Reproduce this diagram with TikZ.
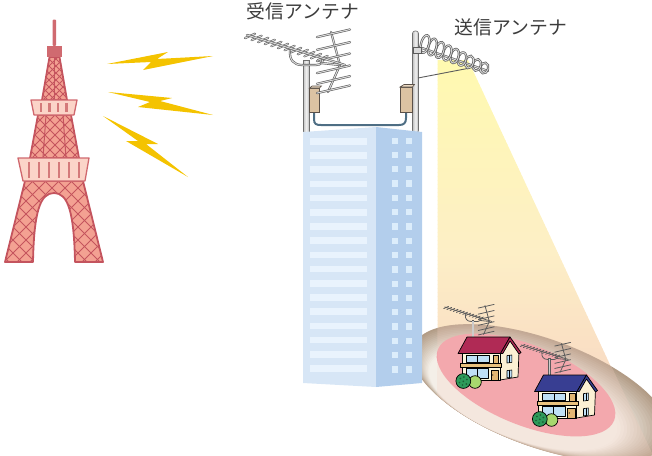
\documentclass[tikz,border=0pt]{standalone}
\usepackage{fontspec}
\newfontfamily\jpfont{Noto Sans CJK JP}
\definecolor{towerfill}{HTML}{F3A192}
\definecolor{towerline}{HTML}{C4545E}
\definecolor{towerdark}{HTML}{D06A70}
\definecolor{platfill}{HTML}{FBD4C8}
\definecolor{platline}{HTML}{D0686E}
\definecolor{platbar}{HTML}{D47A7A}
\definecolor{boltc}{HTML}{F4C300}
\definecolor{poleedge}{HTML}{6E6E6E}
\definecolor{boxfill}{HTML}{DCC3A3}
\definecolor{boxtop}{HTML}{EBD9C2}
\definecolor{boxedge}{HTML}{5A5048}
\definecolor{cablec}{HTML}{4E6E84}
\definecolor{pipeedge}{HTML}{5C5C5C}
\definecolor{pipecore}{HTML}{DADADA}
\definecolor{bfront}{HTML}{D7E6F6}
\definecolor{bstripe}{HTML}{E9F3FD}
\definecolor{bside}{HTML}{B3CEEC}
\definecolor{bwin}{HTML}{DCEDFB}
\definecolor{beamtop}{HTML}{FFF9B0}
\definecolor{beammid}{HTML}{FDEFC6}
\definecolor{beambot}{HTML}{F6D0C2}
\definecolor{groundout}{HTML}{B29C86}
\definecolor{groundin}{HTML}{F4EFE8}
\definecolor{pinkc}{HTML}{F29BA6}
\definecolor{wallc}{HTML}{FDF7DE}
\definecolor{sidewall}{HTML}{FBF0D4}
\definecolor{glass}{HTML}{BFE0F6}
\definecolor{doorc}{HTML}{E2B673}
\definecolor{railc}{HTML}{E9C27E}
\definecolor{roofred}{HTML}{B02A55}
\definecolor{roofblue}{HTML}{383E92}
\definecolor{bushdark}{HTML}{2E9A5A}
\definecolor{bushlight}{HTML}{A8D86E}
\definecolor{bushdot}{HTML}{1D5E36}
\definecolor{labelc}{HTML}{3C3C3C}

% outlines of the tower sections
\newcommand\legspath{(25,181) -- (5,262) -- (33,262) .. controls (34,212) and (40,193) .. (54,193) .. controls (68,193) and (74,212) .. (75,262) -- (103,262) -- (83,181) -- cycle}
\newcommand\midpath{(30,158) -- (38,115) -- (71,115) -- (79,158) -- cycle}
\newcommand\uppath{(42,100) -- (49.5,57) -- (59.5,57) -- (67,100) -- cycle}

% one horizontal band of the light cone: #1 = top y, #2 = colour
\newcommand\beamband[2]{%
  \pgfmathsetmacro\bya{#1}%
  \pgfmathsetmacro\byb{#1+4.6}%
  \pgfmathsetmacro\bxa{468+0.466*(\bya-60)}%
  \pgfmathsetmacro\bxb{468+0.466*(\byb-60)}%
  \fill[#2] (437.5,\bya) -- (\bxa,\bya) -- (\bxb,\byb) -- (437.5,\byb) -- cycle;}

\tikzset{
  pipe/.style={draw=pipeedge, double=pipecore, double distance=1pt, line width=0.6pt, line cap=round},
  hl/.style={draw=black, line width=0.7pt, line join=round},
  % Yagi antenna, origin at the top of its mast
  pics/yagi/.style={code={
    \draw[pipe] (25,-30) -- (34,3) -- (22,30);
    \foreach \ey in {-28.7,-16,-4.7,7.3,18,27.3}
      {\draw[pipe] (11,\ey+3.8) -- (44,\ey-3.8);}
    \draw[pipe] (-16,-12) .. controls (-17,-2) and (-12,3) .. (-4,3) -- (10,3)
      .. controls (15,3) and (17,0) .. (17,-4);
    \draw[pipe] (15,1) -- (34,3);
    \foreach \t in {0,...,11} {
      \pgfmathsetmacro\bx{-56+\t*6.6}
      \pgfmathsetmacro\by{-27+(\bx+59)*30/98}
      \draw[pipe] (\bx-5,\by+2.2) -- (\bx+5,\by-2.2);
    }
    \draw[pipe] (-59,-27) -- (39,3);
  }},
  % two-storey house, origin at the top left of the front wall
  pics/house/.style={code={
    \pic[scale=0.48, pipe/.style={draw=pipeedge, line width=0.8pt, line cap=round}] at (11,-32) {yagi};
    \draw[draw=pipeedge, line width=2.4pt] (11,-3) -- (11,-32);
    \draw[draw=pipecore!85!gray, line width=1.1pt] (11,-3) -- (11,-31.5);
    \filldraw[hl, fill=sidewall] (38,0) -- (48,-14) -- (57,-1) -- (56,25) -- (38,28) -- cycle;
    \filldraw[hl, fill=glass, line width=0.6pt] (45,3.6) -- (49.8,3) -- (49.8,10.4) -- (45,11) -- cycle;
    \draw[black, line width=0.4pt] (47.4,3.3) -- (47.4,10.7);
    \filldraw[hl, fill=glass, line width=0.6pt] (45,18.6) -- (49.8,18) -- (49.8,25.2) -- (45,25.8) -- cycle;
    \draw[black, line width=0.4pt] (47.4,18.3) -- (47.4,25.5);
    \filldraw[hl, fill=wallc] (0,0) rectangle (38,28);
    \filldraw[hl, fill=glass] (4,3.4) rectangle (27,10.8);
    \draw[black, line width=0.5pt] (15.5,3.4) -- (15.5,10.8);
    \filldraw[hl, fill=doorc] (31,3.2) rectangle (36.5,12);
    \filldraw[hl, fill=railc] (-1.5,11.5) rectangle (39.5,15);
    \filldraw[hl, fill=glass] (4,16.5) rectangle (26.5,26.6);
    \draw[black, line width=0.5pt] (15.2,16.5) -- (15.2,26.6);
    \filldraw[hl, fill=doorc] (29,18) rectangle (36.5,28);
    \fill[black] (30.8,23) circle (0.6);
    \filldraw[hl, fill=#1] (-4,1.5) -- (5,-15) -- (48,-15) -- (38.5,1.5) -- cycle;
    \filldraw[hl, fill=#1] (38.5,1.5) -- (48,-15) -- (59,0.5) -- (57,2) -- (48,-11) -- (40.8,1.5) -- cycle;
    \filldraw[hl, fill=bushlight] (13,30) circle (6.3);
    \filldraw[hl, fill=bushdark] (1.3,29) circle (7.4);
    \foreach \dx/\dy in {-3/-2.5,0.5/-4,3.5/-1.5,-3.8/1.5,0/0.3,3/3,-0.8/4}
      {\fill[bushdot] (1.3+\dx,29+\dy) circle (0.95);}
  }}
}

\begin{document}
\begin{tikzpicture}[x=1pt,y=-1pt,
  towerstroke/.style={draw=towerline, line width=1.8pt, line join=round},
  lattice/.style={draw=towerline, line width=1pt},
  platform/.style={draw=platline, fill=platfill, line width=1.3pt, line join=round},
  lbl/.style={font=\jpfont\fontsize{18.8pt}{20pt}\selectfont, text=labelc, inner sep=0pt},
  boltshape/.style={fill=boltc},
]
\useasboundingbox (0,0) rectangle (652,455);

% ---------- light cone of the transmitting antenna (graded bands)
\foreach \k in {0,...,47} {
  \pgfmathsetmacro\p{(4*\k)/190*100}
  \beamband{60+4*\k}{beammid!\p!beamtop}
}
\foreach \k in {48,...,77} {
  \pgfmathsetmacro\p{min(100,(60+4*\k-250)/190*100)}
  \beamband{60+4*\k}{beambot!\p!beammid}
}

% ---------- service area on the ground
\foreach \i in {0,...,30} {
  \pgfmathsetmacro\s{1-\i*0.017}
  \pgfmathsetmacro\p{min(100,\i*6.5)}
  \pgfmathsetmacro\cx{541-\i*1.1}
  \pgfmathsetmacro\cy{393+\i*0.45}
  \fill[groundin!\p!groundout, rotate around={-20:(\cx,\cy)}]
    (\cx,\cy) ellipse [x radius={136*\s}, y radius={54*\s}];
}
\fill[pinkc, rotate around={-22:(526,385)}] (526,385) ellipse [x radius=95, y radius=40];
\begin{scope}
  \clip[rotate around={-20:(541,393)}] (541,393) ellipse [x radius=136, y radius=54];
  \fill[beambot, fill opacity=0.25] (438,60) -- (468,60) -- (660,470) -- (437,470) -- cycle;
\end{scope}

% ---------- houses
\pic at (462,352) {house=roofred};
\pic at (538.5,390) {house=roofblue};

% ---------- rooftop masts, boxes and cable
\draw[cablec, line width=2pt, line cap=round] (314,111) -- (314,119)
  .. controls (314,124) and (316,125) .. (321,125) -- (399,125)
  .. controls (404,125) and (406,123) .. (406,118) -- (406,111);
\draw[draw=poleedge, line width=0.6pt, left color=gray!50, right color=gray!60, middle color=gray!10]
  (303,60) rectangle (309.5,133);
\draw[draw=poleedge, line width=0.6pt, left color=gray!50, right color=gray!60, middle color=gray!10, rounded corners=2.5pt]
  (412.5,31) rectangle (418.5,133);
\filldraw[draw=boxedge, fill=boxfill, line width=0.6pt] (309.5,88) rectangle (319.5,112);
\filldraw[draw=boxedge, fill=boxtop, line width=0.6pt] (309.5,88) -- (312,86) -- (321.5,86) -- (319.5,88) -- cycle;
\filldraw[draw=boxedge, fill=boxfill, line width=0.6pt] (400,87) rectangle (412.5,112);
\filldraw[draw=boxedge, fill=boxtop, line width=0.6pt] (400,87) -- (404,84.5) -- (414.5,84.5) -- (412.5,87) -- cycle;

% receiving Yagi
\pic at (306,62) {yagi};

% transmitting helical antenna
\draw[pipeedge, line width=0.9pt] (418,78) -- (470,68);
\draw[pipe] (419,47) -- (488,71);
\foreach \i in {8,7,...,0} {
  \pgfmathsetmacro\cx{425+\i*7.4}
  \pgfmathsetmacro\cy{44+\i*3}
  \pgfmathsetmacro\ry{9-\i*0.45}
  \draw[pipeedge, line width=2.3pt, rotate around={-15:(\cx,\cy)}]
    (\cx,\cy) ellipse [x radius=4, y radius=\ry];
  \draw[pipecore, line width=0.9pt, rotate around={-15:(\cx,\cy)}]
    (\cx,\cy) ellipse [x radius=4, y radius=\ry];
}
\filldraw[draw=pipeedge, fill=pipecore, line width=0.6pt] (413,47) rectangle (421,53);

% ---------- high-rise building
\fill[bfront] (303,132) -- (376,127) -- (376,387) -- (303,383) -- cycle;
\fill[bside] (376,127) -- (422,132) -- (422,383) -- (376,387) -- cycle;
\foreach \i in {0,...,16} {
  \pgfmathsetmacro\yy{138+\i*14.2}
  \fill[bstripe] (310,\yy) rectangle (367,\yy+6.5);
  \pgfmathsetmacro\wy{137.5+\i*14.3}
  \fill[bwin] (392,\wy) rectangle (398,\wy+6.3);
  \fill[bwin] (406,\wy) rectangle (412,\wy+6.3);
}

% ---------- broadcasting tower
\fill[towerfill] \legspath;
\begin{scope}
  \clip \legspath;
  \foreach \a in {-130,-117,...,260}
    {\draw[lattice] (\a,175) -- ++(100,100) (\a,175) -- ++(-100,100);}
\end{scope}
\draw[towerstroke] \legspath;
\fill[towerfill] \midpath;
\begin{scope}
  \clip \midpath;
  \foreach \a in {-60,-50,...,170}
    {\draw[lattice] (\a,110) -- ++(60,60) (\a,110) -- ++(-60,60);}
  \draw[lattice] (46,115) -- (43,158) (63,115) -- (66,158);
\end{scope}
\draw[towerstroke] \midpath;
\fill[towerfill] \uppath;
\begin{scope}
  \clip \uppath;
  \foreach \a in {0,7,...,110}
    {\draw[lattice] (\a,52) -- ++(55,55) (\a,52) -- ++(-55,55);}
  \draw[lattice] (54.5,57) -- (54.5,100);
\end{scope}
\draw[towerstroke] \uppath;
\filldraw[platform] (31,100) -- (77,100) -- (74,115) -- (34,115) -- cycle;
\foreach \x in {41,49.5,58,66.5}
  {\fill[platbar] (\x-1.3,103) rectangle (\x+1.3,112);}
\filldraw[platform] (18,158) -- (89,158) -- (85,181) -- (23,181) -- cycle;
\foreach \x in {29,39,49,59,69,79}
  {\fill[platbar] (\x-1.3,161.5) rectangle (\x+1.3,177.5);}
\fill[towerdark] (47,45.5) rectangle (62,57);
\fill[towerdark, rounded corners=1pt] (52.5,19.5) rectangle (56,46);

% ---------- radio waves
\fill[boltshape] (107,64) -- (168,52) -- (157,59) -- (213,56) -- (143,70) -- (151,62) -- cycle;
\fill[boltshape] (108,92) -- (172,98) -- (160,101) -- (213,115) -- (138,107) -- (150,102) -- cycle;
\fill[boltshape] (103,116) -- (158,144) -- (146,144) -- (188,177) -- (126,141) -- (138,141) -- cycle;

% ---------- labels
\node[lbl] (rxlabel) at (303,11.5) {受信アンテナ};
\node[lbl] (txlabel) at (511,27) {送信アンテナ};
\end{tikzpicture}
\end{document}
